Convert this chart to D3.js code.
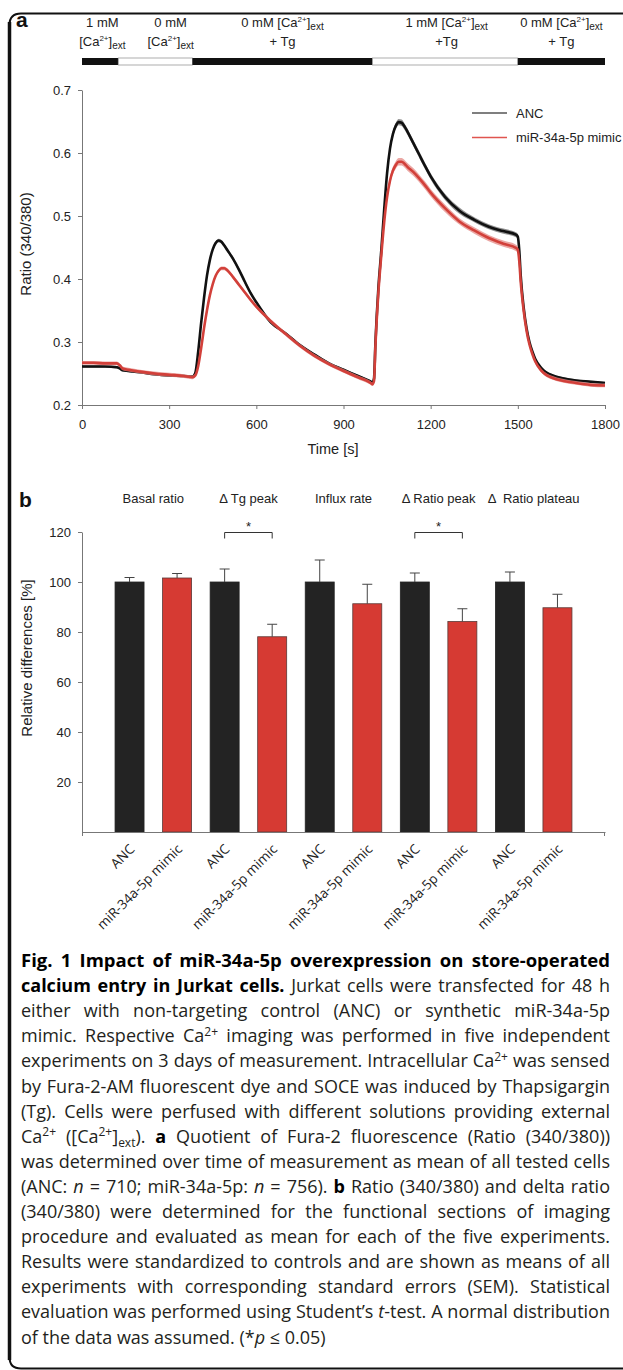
<!DOCTYPE html>
<html><head><meta charset="utf-8">
<script src="https://cdn.jsdelivr.net/npm/d3@7"></script>
<style>html,body{margin:0;padding:0;background:#fff;} svg{display:block;}</style>
</head><body>
<svg id="fig" width="623" height="1370"></svg>
<script>
// ---------------- Panel a data ----------------
const times = [0,40,80,120,130,140,160,200,250,300,350,380,
  390,400,410,420,430,440,450,460,470,480,490,500,
  520,540,560,580,600,650,700,750,800,850,900,950,
  990,1000,1005,1010,1020,1030,1040,1050,1060,1070,1080,1090,
  1100,1110,1120,1140,1160,1180,1200,1250,1300,1350,1400,1450,
  1495,1500,1505,1510,1520,1530,1540,1550,1560,1580,1600,1620,1650,1700,1750,1800];
const ancRatio = [.261,.261,.261,.260,.258,.255,.254,.252,.249,.247,.246,.245,
  .251,.285,.330,.370,.405,.430,.447,.457,.461,.459,.453,.446,
  .432,.415,.396,.378,.363,.331,.314,.295,.280,.266,.256,.246,
  .238,.236,.242,.300,.385,.445,.510,.568,.607,.630,.643,.649,
  .648,.642,.634,.616,.598,.580,.563,.530,.508,.494,.483,.476,
  .470,.467,.445,.405,.355,.322,.300,.285,.273,.259,.251,.247,.243,.239,.237,.235];
const mimicRatio = [.267,.267,.266,.266,.263,.258,.256,.253,.250,.248,.246,.244,
  .247,.262,.290,.322,.350,.374,.392,.405,.413,.417,.417,.414,
  .403,.391,.379,.367,.356,.333,.313,.294,.278,.265,.254,.244,
  .236,.233,.238,.295,.378,.437,.490,.530,.556,.572,.581,.586,
  .586,.583,.578,.570,.560,.549,.537,.512,.491,.477,.465,.456,
  .449,.446,.428,.395,.350,.318,.296,.281,.269,.255,.247,.243,.239,.235,.232,.231];
const ancSem = [.002,.002,.002,.002,.002,.002,.002,.002,.002,.002,.002,.002,
  .002,.002,.003,.003,.003,.003,.003,.003,.003,.003,.003,.003,
  .003,.003,.003,.003,.002,.002,.002,.002,.002,.002,.002,.002,
  .002,.002,.002,.003,.004,.004,.004,.005,.005,.005,.005,.005,
  .005,.005,.005,.005,.005,.005,.005,.005,.005,.004,.004,.004,
  .004,.004,.004,.004,.003,.003,.003,.003,.002,.002,.002,.002,.002,.002,.002,.002];
const mimicSem = [.003,.003,.003,.003,.003,.003,.003,.003,.003,.003,.003,.003,
  .003,.003,.003,.003,.003,.003,.003,.003,.003,.003,.003,.003,
  .003,.003,.003,.003,.003,.003,.003,.003,.003,.003,.003,.003,
  .003,.003,.003,.003,.004,.005,.005,.006,.006,.006,.006,.006,
  .006,.006,.006,.006,.006,.006,.006,.006,.005,.005,.005,.005,
  .005,.005,.005,.004,.004,.003,.003,.003,.003,.003,.003,.003,.003,.003,.003,.003];
const seriesNames = ["ANC", "miR-34a-5p mimic"];
const timeTicks = [0,300,600,900,1200,1500,1800];
const ratioTicks = [0.2,0.3,0.4,0.5,0.6,0.7];

// protocol bar (seconds)
const protoStart = [0,125,380,1000,1500];
const protoEnd   = [125,380,1000,1500,1800];
const protoLabelAt = [70,305,690,1255,1650];
const protoLine1 = ["1 mM","0 mM","0 mM [Ca^{2+}]_{ext}","1 mM [Ca^{2+}]_{ext}","0 mM [Ca^{2+}]_{ext}"];
const protoLine2 = ["[Ca^{2+}]_{ext}","[Ca^{2+}]_{ext}","+ Tg","+Tg","+ Tg"];

// ---------------- Panel b data ----------------
const categories = ["Basal ratio","\u0394 Tg peak","Influx rate","\u0394 Ratio peak","\u0394  Ratio plateau"];
const ancMeans = [100,100,100,100,100];
const ancErr   = [1.8,5.2,8.8,3.6,4.0];
const mimicMeans = [101.6,78.1,91.3,84.2,89.7];
const mimicErr   = [1.8,5.0,7.8,5.1,5.4];
const significant = [1,3];
const pctTicks = [20,40,60,80,100,120];

// ---------------- Caption ----------------
const caption = [
 "**Fig. 1 Impact of miR-34a-5p overexpression on store-operated**",
 "**calcium entry in Jurkat cells.** Jurkat cells were transfected for 48 h",
 "either with non-targeting control (ANC) or synthetic miR-34a-5p",
 "mimic. Respective Ca^{2+} imaging was performed in five independent",
 "experiments on 3 days of measurement. Intracellular Ca^{2+} was sensed",
 "by Fura-2-AM fluorescent dye and SOCE was induced by Thapsigargin",
 "(Tg). Cells were perfused with different solutions providing external",
 "Ca^{2+} ([Ca^{2+}]_{ext}). **a** Quotient of Fura-2 fluorescence (Ratio (340/380))",
 "was determined over time of measurement as mean of all tested cells",
 "(ANC: ~n~ = 710; miR-34a-5p: ~n~ = 756). **b** Ratio (340/380) and delta ratio",
 "(340/380) were determined for the functional sections of imaging",
 "procedure and evaluated as mean for each of the five experiments.",
 "Results were standardized to controls and are shown as means of all",
 "experiments with corresponding standard errors (SEM). Statistical",
 "evaluation was performed using Student\u2019s ~t~-test. A normal distribution",
 "of the data was assumed. (*~p~ \u2264 0.05)"
];

// ---------------- Drawing ----------------
const svg = d3.select('#fig');
const AX = "'Liberation Sans', Arial, sans-serif";
const CAP = "'Open Sans', sans-serif";

function addRich(textEl, markup, o) {
  const parts = markup.split(/(\*\*[^*]+\*\*|~[^~]+~|\^\{[^}]+\}|_\{[^}]+\})/).filter(s => s.length);
  let shift = 0;
  parts.forEach(p => {
    let txt = p, weight = null, style = null, dy = 0, size = null;
    if (p.startsWith('**')) { txt = p.slice(2,-2); weight = 'bold'; }
    else if (p.startsWith('~')) { txt = p.slice(1,-1); style = 'italic'; }
    else if (p.startsWith('^{')) { txt = p.slice(2,-1); dy = -o.sup; size = o.small; }
    else if (p.startsWith('_{')) { txt = p.slice(2,-1); dy = o.sub; size = o.small; }
    const ts = textEl.append('tspan').text(txt);
    if (dy - shift !== 0) ts.attr('dy', dy - shift);
    shift = dy;
    if (weight) ts.attr('font-weight', weight);
    if (style) ts.attr('font-style', style);
    if (size) ts.attr('font-size', size);
  });
  return textEl;
}

// frame
svg.append('path').attr('d','M623,13.5 H21 Q9.5,13.5 9.5,25 V1357 Q9.5,1368.5 21,1368.5 H623')
  .attr('fill','none').attr('stroke','#111').attr('stroke-width',2);
svg.append('line').attr('x1',9.5).attr('x2',9.5).attr('y1',22).attr('y2',1360)
  .attr('stroke','#111').attr('stroke-width',3.5);

// panel letters
svg.append('text').attr('x',16).attr('y',27).text('a')
  .attr('font-family',AX).attr('font-weight','bold').attr('font-size',21).attr('fill','#111');
svg.append('text').attr('x',19).attr('y',507).text('b')
  .attr('font-family',AX).attr('font-weight','bold').attr('font-size',21).attr('fill','#111');

// ===== Panel a =====
const xa = d3.scaleLinear().domain([0,1800]).range([82,605]);
const ya = d3.scaleLinear().domain([0.2,0.7]).range([405,90]);

// protocol bar
const pa = svg.append('g');
pa.selectAll('rect').data(protoStart).join('rect')
  .attr('x', (d,i) => xa(d)).attr('width', (d,i) => xa(protoEnd[i]) - xa(d))
  .attr('y', 58).attr('height', 7)
  .attr('fill', (d,i) => i % 2 === 0 ? '#111' : '#fff')
  .attr('stroke', (d,i) => i % 2 === 0 ? 'none' : '#999').attr('stroke-width', 0.8);
protoLabelAt.forEach((t,i) => {
  const t1 = pa.append('text').attr('x', xa(t)).attr('y', 27).attr('text-anchor','middle')
    .attr('font-family',AX).attr('font-size',13).attr('fill','#222');
  addRich(t1, protoLine1[i], {sup:5, sub:3, small:8});
  const t2 = pa.append('text').attr('x', xa(t)).attr('y', 46).attr('text-anchor','middle')
    .attr('font-family',AX).attr('font-size',13).attr('fill','#222');
  addRich(t2, protoLine2[i], {sup:5, sub:3, small:8});
});
pa.selectAll('tspan').filter(function(){ return this.textContent === 'ext'; }).attr('font-size',10);

// axes
const gxa = svg.append('g').attr('transform','translate(0,405)')
  .call(d3.axisBottom(xa).tickValues(timeTicks).tickFormat(d3.format('d')).tickSize(4).tickPadding(11).tickSizeOuter(0));
const gya = svg.append('g').attr('transform','translate(82,0)')
  .call(d3.axisLeft(ya).tickValues(ratioTicks).tickFormat(d3.format('.1f')).tickSize(4).tickPadding(7).tickSizeOuter(0));
[gxa,gya].forEach(g => {
  g.selectAll('path,line').attr('stroke','#777').attr('stroke-width',1);
  g.selectAll('text').attr('font-family',AX).attr('font-size',13).attr('fill','#222');
});
svg.append('text').attr('x',333).attr('y',454).attr('text-anchor','middle').text('Time [s]')
  .attr('font-family',AX).attr('font-size',14.5).attr('fill','#222');
svg.append('text').attr('transform','translate(31,244) rotate(-90)').attr('text-anchor','middle')
  .text('Ratio (340/380)').attr('font-family',AX).attr('font-size',15).attr('fill','#222');

// series
const seriesData = [
  {vals: ancRatio, sem: ancSem, line:'#111', band:'#6d6d6d'},
  {vals: mimicRatio, sem: mimicSem, line:'#d2403a', band:'#e48a85'}
];
const area = d3.area().x((d,i)=>xa(times[i])).curve(d3.curveMonotoneX);
const line = d3.line().x((d,i)=>xa(times[i])).curve(d3.curveMonotoneX);
seriesData.forEach(s => {
  svg.append('path').datum(s.vals)
    .attr('d', area.y0((d,i)=>ya(d - s.sem[i])).y1((d,i)=>ya(d + s.sem[i])))
    .attr('fill', s.band).attr('opacity',0.75);
  svg.append('path').datum(s.vals)
    .attr('d', line.y((d)=>ya(d)))
    .attr('fill','none').attr('stroke', s.line).attr('stroke-width',2.6).attr('stroke-linejoin','round');
});

// legend
const legColors = ['#555','#e0554f'];
seriesNames.forEach((n,i) => {
  const yy = 113 + i*24.5;
  svg.append('line').attr('x1',472).attr('x2',507).attr('y1',yy).attr('y2',yy)
    .attr('stroke',legColors[i]).attr('stroke-width',1.6);
  svg.append('text').attr('x',516).attr('y',yy+4.5).text(n)
    .attr('font-family',AX).attr('font-size',13).attr('fill','#222');
});

// ===== Panel b =====
const bars = categories.flatMap((c,g) => [
  {g, label: seriesNames[0], v: ancMeans[g], e: ancErr[g], s: 0},
  {g, label: seriesNames[1], v: mimicMeans[g], e: mimicErr[g], s: 1}
]);
const xb = d3.scalePoint().domain(d3.range(bars.length)).range([82,605]).padding(1);
const yb = d3.scaleLinear().domain([0,120]).range([832,532]);
const bw = 29;

const gb = svg.append('g');
gb.selectAll('rect').data(bars).join('rect')
  .attr('x',(d,i)=>xb(i)-bw/2).attr('width',bw)
  .attr('y',d=>yb(d.v)).attr('height',d=>yb(0)-yb(d.v))
  .attr('fill',d=>d.s? '#d63a33' : '#232323')
  .attr('stroke',d=>d.s? '#5a3a38' : '#232323').attr('stroke-width',0.8);
bars.forEach((d,i) => {
  const cx = xb(i);
  gb.append('line').attr('x1',cx).attr('x2',cx).attr('y1',yb(d.v)).attr('y2',yb(d.v+d.e))
    .attr('stroke','#444').attr('stroke-width',1);
  gb.append('line').attr('x1',cx-5).attr('x2',cx+5).attr('y1',yb(d.v+d.e)).attr('y2',yb(d.v+d.e))
    .attr('stroke','#444').attr('stroke-width',1);
});
const gxb = svg.append('g').attr('transform','translate(0,832)')
  .call(d3.axisBottom(xb).tickSize(0).tickFormat(''));
gxb.select('path').attr('stroke','#777');
svg.append('line').attr('x1',82.5).attr('x2',82.5).attr('y1',832).attr('y2',836).attr('stroke','#777');
svg.append('line').attr('x1',604.5).attr('x2',604.5).attr('y1',832).attr('y2',836).attr('stroke','#777');
const gyb = svg.append('g').attr('transform','translate(82,0)')
  .call(d3.axisLeft(yb).tickValues(pctTicks).tickSize(4).tickPadding(7).tickSizeOuter(0));
gyb.selectAll('path,line').attr('stroke','#777');
gyb.selectAll('text').attr('font-family',AX).attr('font-size',13).attr('fill','#222');
svg.append('text').attr('transform','translate(32,658) rotate(-90)').attr('text-anchor','middle')
  .text('Relative differences [%]').attr('font-family',AX).attr('font-size',15).attr('fill','#222');

bars.forEach((d,i) => {
  svg.append('text').attr('transform',`translate(${xb(i)+6},${850}) rotate(-45)`)
    .attr('text-anchor','end').text(d.label)
    .attr('font-family',CAP).attr('font-size',13.5).attr('fill','#222');
});
categories.forEach((c,g) => {
  svg.append('text').attr('x',(xb(2*g)+xb(2*g+1))/2).attr('y',503).attr('text-anchor','middle')
    .text(c).attr('font-family',AX).attr('font-size',13).attr('fill','#222').style('white-space','pre');
});
significant.forEach(g => {
  const x1 = xb(2*g), x2 = xb(2*g+1), yy = 532.5;
  svg.append('path').attr('d',`M${x1},${yy+6} V${yy} H${x2} V${yy+6}`)
    .attr('fill','none').attr('stroke','#333').attr('stroke-width',1);
  svg.append('text').attr('x',(x1+x2)/2).attr('y',531).attr('text-anchor','middle').text('*')
    .attr('font-family',AX).attr('font-size',13).attr('fill','#222');
});

// ===== Caption =====
const capLeft = 21, capRight = 610;
caption.forEach((ln,i) => {
  const t = svg.append('text').attr('x',capLeft).attr('y',967 + i*25.1)
    .attr('font-family',CAP).attr('font-size',i === 0 ? 18.5 : 18)
    .attr('fill', i === 0 ? '#000' : '#231f20');
  addRich(t, ln, {sup:6.5, sub:4, small:12});
  t.selectAll('tspan').filter(function(){ return this.getAttribute('font-weight') === 'bold'; }).attr('fill','#000');
  if (i < caption.length - 1) {
    const w = t.node().getComputedTextLength();
    const full = t.text();
    const n = (full.match(/ /g) || []).length;
    if (n > 0) t.attr('word-spacing', ((capRight - capLeft) - w) / n);
  }
});
</script>
</body></html>
